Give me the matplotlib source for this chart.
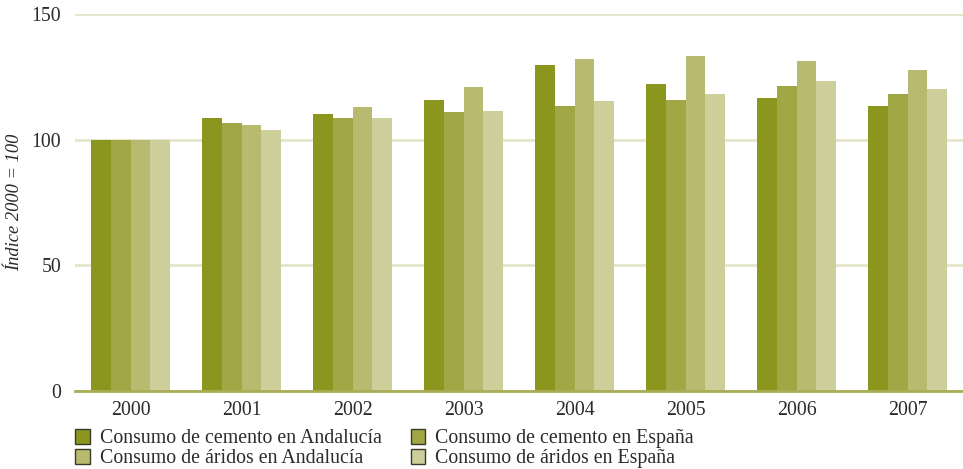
import matplotlib
matplotlib.use("Agg")
import matplotlib.pyplot as plt
import numpy as np
from matplotlib.patches import Patch

years = ["2000", "2001", "2002", "2003", "2004", "2005", "2006", "2007"]
cemento_andalucia = [100, 108.6, 110.2, 115.8, 129.7, 122.2, 116.6, 113.4]
cemento_espana = [100, 106.6, 108.6, 111.0, 113.4, 115.8, 121.4, 118.2]
aridos_andalucia = [100, 105.8, 113.0, 121.0, 132.1, 133.3, 131.3, 127.7]
aridos_espana = [100, 103.9, 108.6, 111.4, 115.4, 118.2, 123.4, 120.2]
series_labels = [
    "Consumo de cemento en Andalucía",
    "Consumo de cemento en España",
    "Consumo de áridos en Andalucía",
    "Consumo de áridos en España",
]
colors = ["#8b961e", "#a2a745", "#b8ba6f", "#cccf9a"]

plt.rcParams["font.family"] = ["Liberation Serif", "DejaVu Serif"]
FS = 14.3
TXT = "#2b2b2b"

fig = plt.figure(figsize=(9.63, 4.69), dpi=100)
ax = fig.add_axes([75 / 963, 1 - 391 / 469, 888 / 963, 377 / 469])

x = np.arange(len(years))
width = 0.18
all_series = [cemento_andalucia, cemento_espana, aridos_andalucia, aridos_espana]
for i, (vals, col) in enumerate(zip(all_series, colors)):
    ax.bar(x + (i - 1.5) * width, vals, width, color=col, zorder=3)

ax.set_xlim(-0.5, len(years) - 0.5)
ax.set_ylim(0, 150)
ax.set_yticks([0, 50, 100, 150])
ax.set_xticks(x)
ax.set_xticklabels(years)
ax.yaxis.grid(True, color="#e4e6cc", linewidth=2, zorder=0)
ax.set_axisbelow(True)
for s in ["left", "right", "top"]:
    ax.spines[s].set_visible(False)
ax.spines["bottom"].set_color("#a9ad55")
ax.spines["bottom"].set_linewidth(2)
ax.spines["bottom"].set_zorder(4)
ax.tick_params(axis="both", length=0, labelsize=FS, colors=TXT)
ax.tick_params(axis="y", pad=10)
ax.tick_params(axis="x", pad=7)
ax.set_ylabel("Índice 2000 = 100", fontsize=13.3, style="italic", color=TXT)
ax.yaxis.set_label_coords(-0.058, 0.5)

handles = [Patch(facecolor=c, edgecolor="#3a3a2a", linewidth=1) for c in colors]
leg = fig.legend(
    [handles[i] for i in [0, 2, 1, 3]],
    [series_labels[i] for i in [0, 2, 1, 3]],
    ncol=2, loc="upper left", bbox_to_anchor=(75 / 963, 1 - 429 / 469),
    frameon=False, fontsize=FS, handlelength=0.75, handleheight=0.75,
    handletextpad=0.5, columnspacing=1.45, labelspacing=0.05, borderpad=0,
    borderaxespad=0,
)
for t in leg.get_texts():
    t.set_color(TXT)

fig.savefig("out.png", dpi=100)
